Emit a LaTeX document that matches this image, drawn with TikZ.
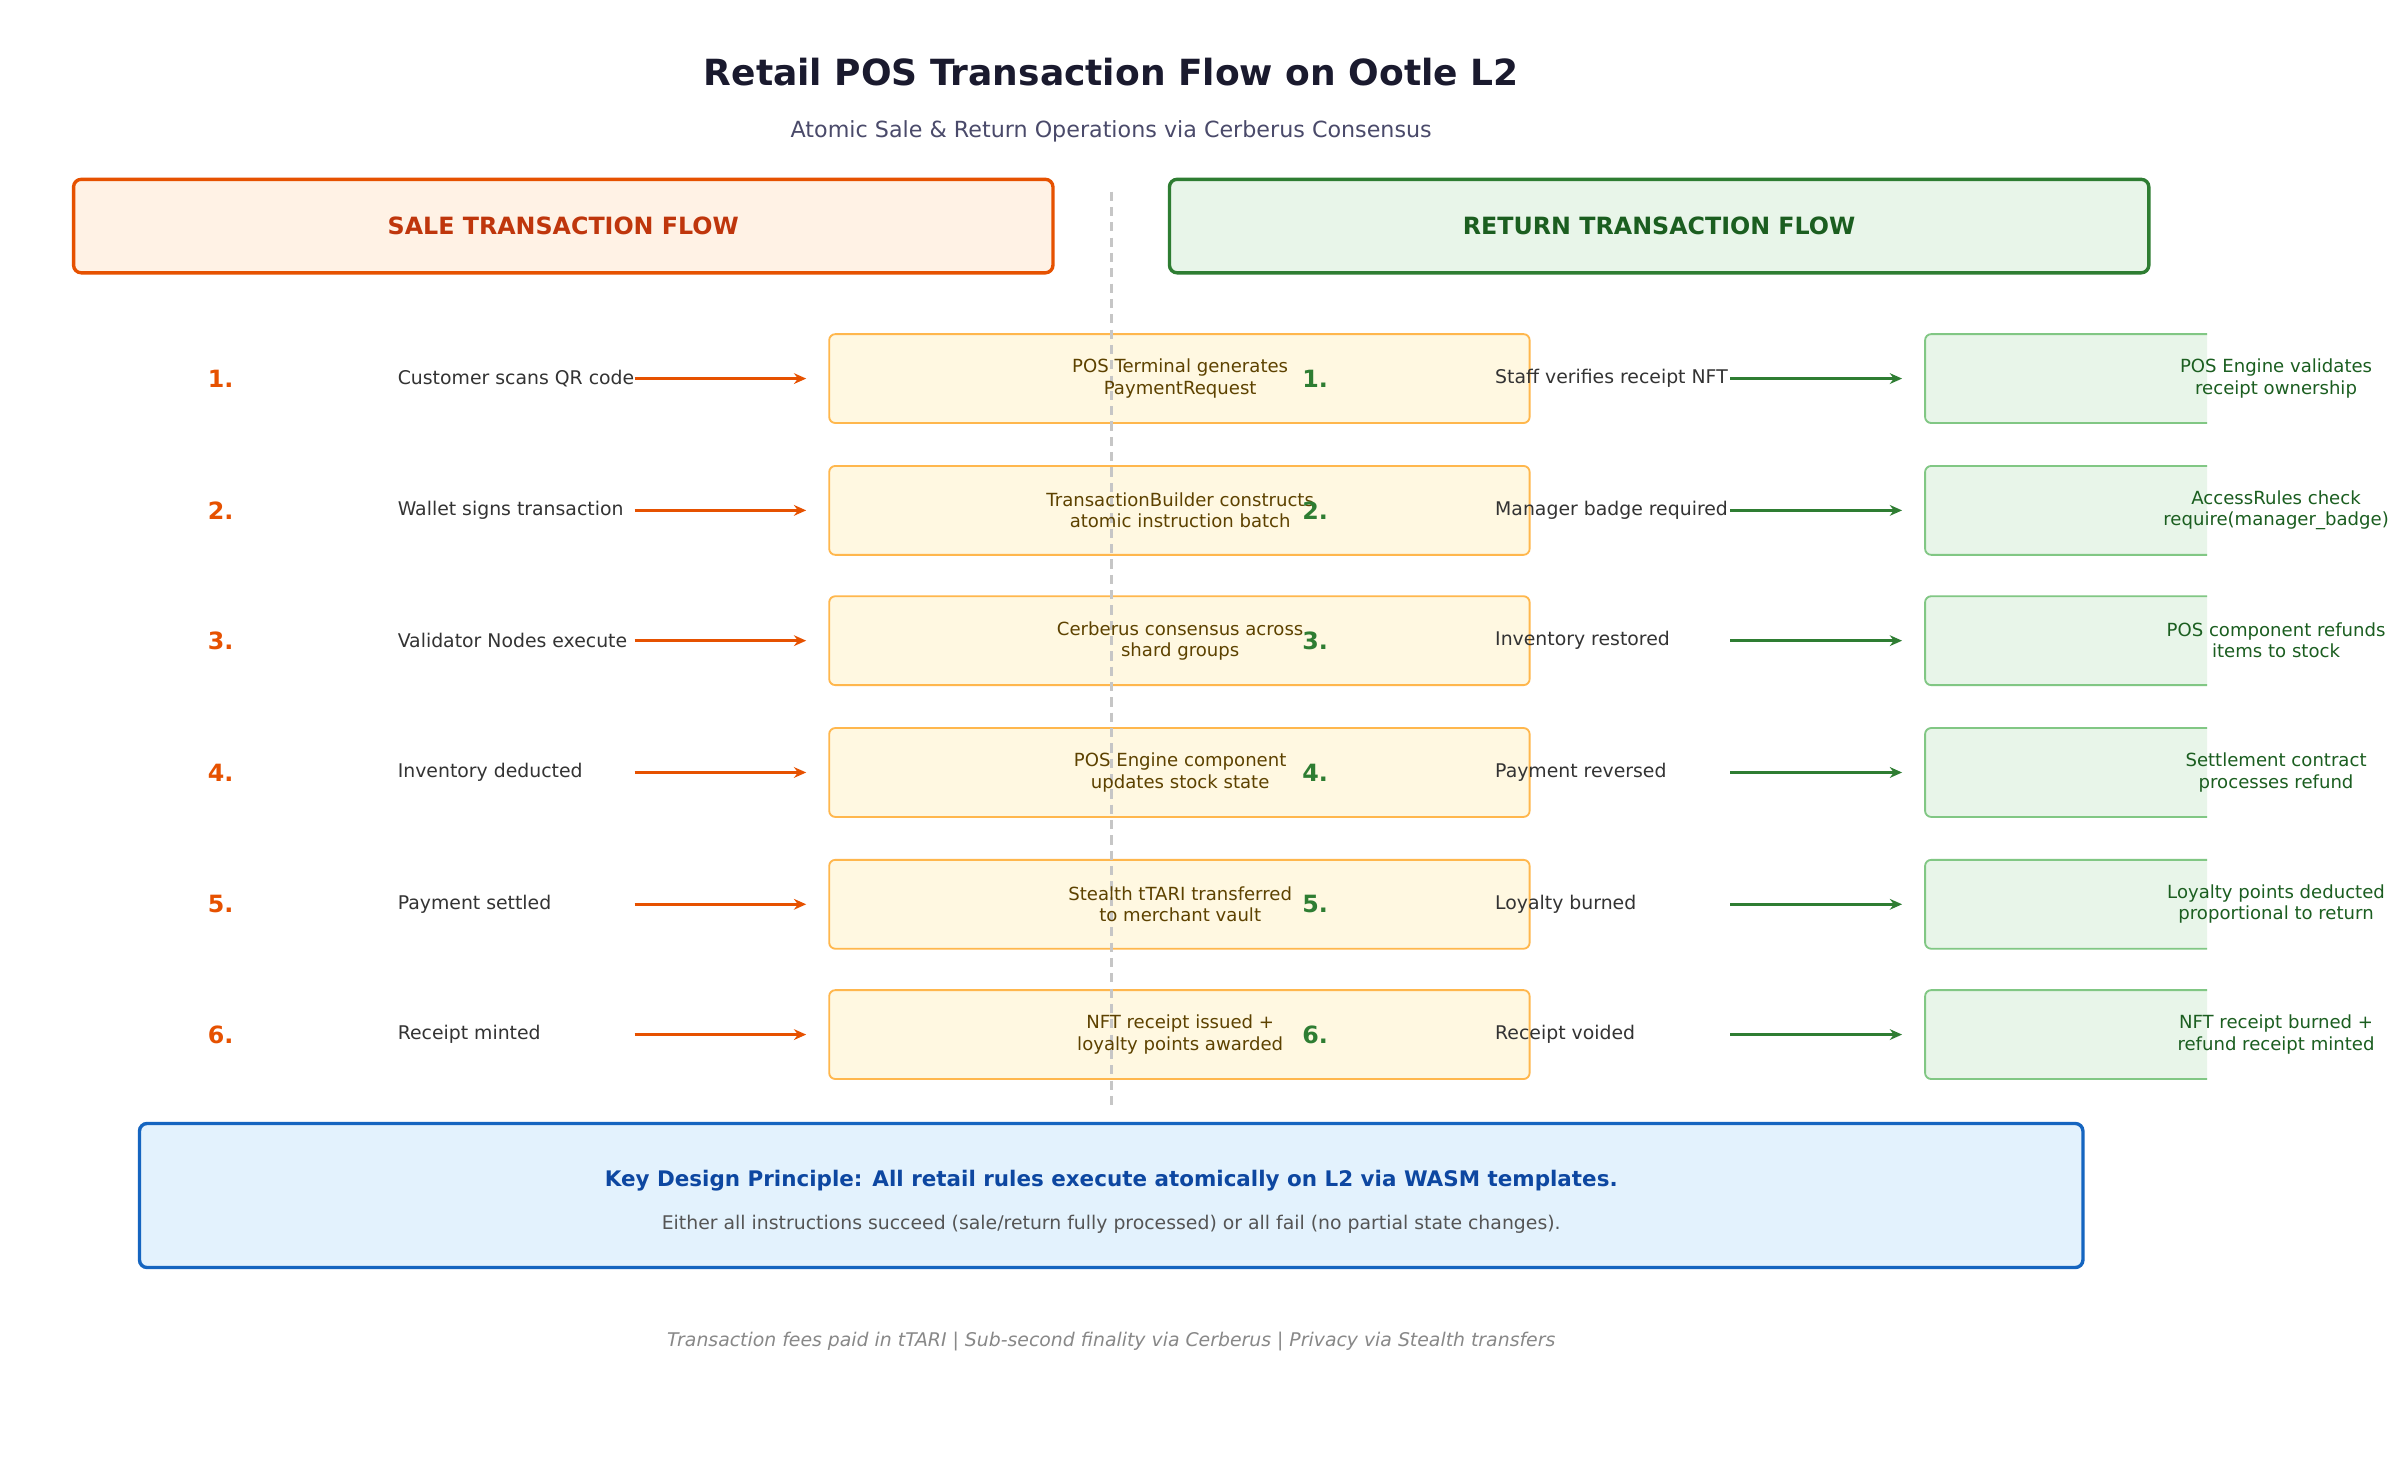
\documentclass[tikz,border=0pt]{standalone}
\usepackage{fontspec}
\setmainfont{DejaVu Sans}
\usetikzlibrary{arrows.meta}
\begin{document}
\begin{tikzpicture}[x=1pt,y=-1pt,
 lbl/.style={anchor=west,font=\fontsize{12.3}{14}\selectfont,text=black!80},
 snum/.style={font=\bfseries\fontsize{15.5}{18}\selectfont,text=sorange},
 rnum/.style={font=\bfseries\fontsize{15.5}{18}\selectfont,text=rgreen},
 sarr/.style={draw=sorange,line width=1.8pt,-{Stealth[length=8pt,width=7pt]}},
 rarr/.style={draw=rgreen,line width=1.8pt,-{Stealth[length=8pt,width=7pt]}},
 sbox/.style={draw=sboxd,fill=sboxf,rounded corners=4pt,line width=1.2pt},
 rbox/.style={draw=rboxd,fill=rboxf,rounded corners=4pt,line width=1.2pt},
 btxt/.style={align=center,font=\fontsize{11.8}{13.8}\selectfont}]
\definecolor{sorange}{HTML}{E65100}
\definecolor{rgreen}{HTML}{2E7D32}
\definecolor{sboxd}{HTML}{FFB74D}
\definecolor{sboxf}{HTML}{FFF8E1}
\definecolor{rboxd}{HTML}{81C784}
\definecolor{rboxf}{HTML}{E8F5E9}
\definecolor{dgreen}{HTML}{1B5E20}
\definecolor{brown}{HTML}{5D4200}
\useasboundingbox (0,0) rectangle (1560,966);
\fill[white] (0,0) rectangle (1560,966);
\node (title) at (725,47) {\bfseries\fontsize{23.5}{27}\selectfont\color[HTML]{1A1A2E}Retail POS Transaction Flow on Ootle L2};
\node (sub) at (725,86) {\fontsize{14.5}{17}\selectfont\color[HTML]{4A4A6A}Atomic Sale \& Return Operations via Cerberus Consensus};
\draw[draw=sorange,fill=orange!10!white,rounded corners=5pt,line width=2.2pt] (48,117) rectangle (687,178);
\node (sh) at (367.5,147.5) {\bfseries\fontsize{15.5}{18}\selectfont\color[HTML]{BF360C}SALE TRANSACTION FLOW};
\draw[draw=rgreen,fill=rboxf,rounded corners=5pt,line width=2.2pt] (763,117) rectangle (1402,178);
\node (rh) at (1082.5,147.5) {\bfseries\fontsize{15.5}{18}\selectfont\color{dgreen}RETURN TRANSACTION FLOW};
\def\rows{247/1/Customer scans QR code/POS Terminal generates\\PaymentRequest/Staff verifies receipt NFT/POS Engine validates\\receipt ownership,
333/2/Wallet signs transaction/TransactionBuilder constructs\\atomic instruction batch/Manager badge required/AccessRules check\\require(manager\_badge),
418/3/Validator Nodes execute/Cerberus consensus across\\shard groups/Inventory restored/POS component refunds\\items to stock,
504/4/Inventory deducted/POS Engine component\\updates stock state/Payment reversed/Settlement contract\\processes refund,
590/5/Payment settled/Stealth tTARI transferred\\to merchant vault/Loyalty burned/Loyalty points deducted\\proportional to return,
675/6/Receipt minted/NFT receipt issued +\\loyalty points awarded/Receipt voided/NFT receipt burned +\\refund receipt minted}
\foreach \y/\n/\sl/\st/\rl/\rt in \rows {
 \draw[sbox] (541,\y-29) rectangle (998,\y+29);
 \node[snum] (sn\n) at (144,\y) {\n.};
 \node[lbl] (sl\n) at (256,\y) {\sl};
 \coordinate (sa\n) at (414,\y); \coordinate (sb\n) at (526,\y);
 \draw[sarr] (sa\n) -- (sb\n);
 \begin{scope}
 \clip (0,0) rectangle (1440,966);
 \draw[rbox] (1256,\y-29) rectangle (1500,\y+29);
 \end{scope}
 \coordinate (ra\n) at (1129,\y); \coordinate (rb\n) at (1241,\y);
 \draw[rarr] (ra\n) -- (rb\n);
}
\draw[gray!45,line width=1.8pt,dash pattern=on 6pt off 4pt] (725,125) -- (725,722);
\foreach \y/\n/\sl/\st/\rl/\rt in \rows {
 \node[btxt,text=brown] (st\n) at (770,\y) {\st};
 \node[rnum] (rn\n) at (858,\y) {\n.};
 \node[lbl] (rl\n) at (972,\y) {\rl};
 \node[btxt,text=dgreen] (rt\n) at (1485,\y) {\rt};
}
\draw[draw={rgb,255:red,21;green,101;blue,192},fill={rgb,255:red,227;green,242;blue,253},rounded corners=5pt,line width=2.2pt] (91,733) rectangle (1359,827);
\node (k1) at (725,770) {\bfseries\fontsize{14}{16}\selectfont\color[HTML]{0D47A1}Key Design Principle: All retail rules execute atomically on L2 via WASM templates.};
\node (k2) at (725,799) {\fontsize{12.3}{14}\selectfont\color[HTML]{555555}Either all instructions succeed (sale/return fully processed) or all fail (no partial state changes).};
\node (ft) at (725,875) {\itshape\fontsize{12.3}{14}\selectfont\color[HTML]{888888}Transaction fees paid in tTARI | Sub-second finality via Cerberus | Privacy via Stealth transfers};
\end{tikzpicture}
\end{document}
